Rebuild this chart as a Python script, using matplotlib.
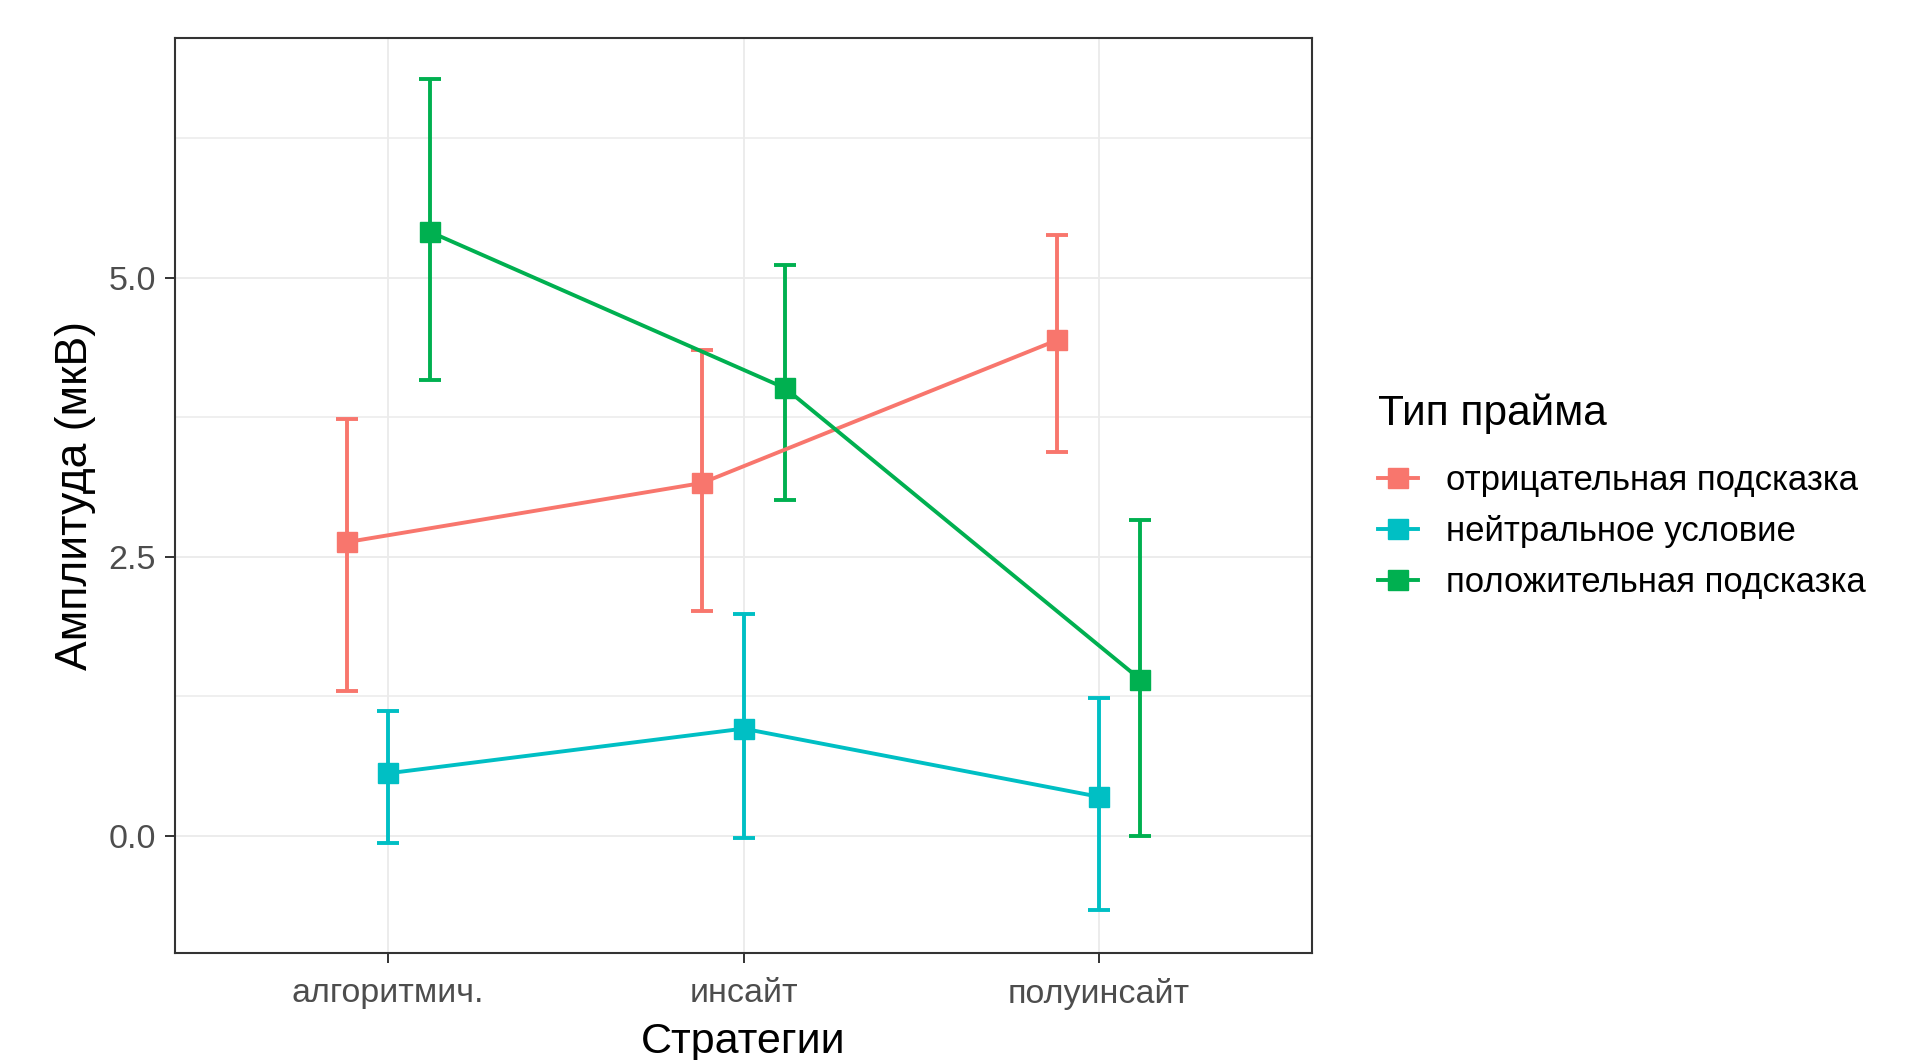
import matplotlib
matplotlib.use('Agg')
import matplotlib.pyplot as plt
from matplotlib.lines import Line2D
import numpy as np

plt.rcParams['font.family'] = ['Liberation Sans', 'DejaVu Sans']

# Data
categories = ['алгоритмич.', 'инсайт', 'полуинсайт']
groups = ['отрицательная подсказка', 'нейтральное условие', 'положительная подсказка']
colors = ['#F8766D', '#00BFC4', '#00B050']

neg_mean = [2.63, 3.16, 4.44]
neg_low = [1.30, 2.01, 3.44]
neg_high = [3.73, 4.35, 5.38]

neu_mean = [0.56, 0.96, 0.35]
neu_low = [-0.06, -0.02, -0.66]
neu_high = [1.12, 1.99, 1.23]

pos_mean = [5.41, 4.01, 1.40]
pos_low = [4.08, 3.01, 0.00]
pos_high = [6.78, 5.11, 2.83]

means = [neg_mean, neu_mean, pos_mean]
lows = [neg_low, neu_low, pos_low]
highs = [neg_high, neu_high, pos_high]

W, H = 1917, 1060
fig = plt.figure(figsize=(W / 100, H / 100), dpi=100)
ax = fig.add_axes([175 / W, (H - 952.5) / H, (1312 - 175) / W, (952.5 - 37.5) / H])

x = np.arange(1, len(categories) + 1)
dodge = [-0.117, 0.0, 0.117]

for i in range(3):
    xs = x + dodge[i]
    m = np.array(means[i])
    lo = m - np.array(lows[i])
    hi = np.array(highs[i]) - m
    ax.errorbar(xs, m, yerr=[lo, hi], fmt='none', ecolor=colors[i],
                elinewidth=2.8, capsize=8, capthick=2.8, zorder=3)
    ax.plot(xs, m, color=colors[i], lw=2.8, marker='s', markersize=14.5,
            zorder=4)

ax.set_xticks(x)
ax.set_xticklabels(categories)
ax.set_yticks([0, 2.5, 5.0])
ax.set_yticklabels(['0.0', '2.5', '5.0'])
ax.set_yticks([1.25, 3.75, 6.25], minor=True)
ax.set_xlim(0.4, 3.6)
ax.set_ylim(-1.045, 7.15)

ax.grid(True, which='major', color='#EBEBEB', lw=1.3, zorder=0)
ax.grid(True, which='minor', axis='y', color='#EBEBEB', lw=1.1, zorder=0)
ax.set_axisbelow(True)
ax.tick_params(which='major', length=7.5, width=1.4, color='#333333',
               labelsize=24.5, labelcolor='#4D4D4D')
ax.tick_params(axis='x', pad=11)
ax.tick_params(axis='y', pad=6)
ax.tick_params(which='minor', length=0)
for s in ax.spines.values():
    s.set_color('#333333')
    s.set_linewidth(1.5)

fig.text(743 / W, 1 - 1042 / H, 'Стратегии', fontsize=31, ha='center', va='center')
fig.text(76 / W, 1 - 495 / H, 'Амплитуда (мкВ)', fontsize=32, ha='center',
         va='center', rotation=90)

handles = [Line2D([0], [0], color=c, lw=2.8, marker='s', markersize=14.5) for c in colors]
leg = fig.legend(handles, groups, title='Тип прайма', loc='upper left',
                 bbox_to_anchor=(1347 / W, 1 - 362 / H), frameon=False,
                 fontsize=25, title_fontsize=30.5, handlelength=1.15,
                 handletextpad=0.8, labelspacing=0.52)
leg._legend_box.align = 'left'
leg._legend_box.sep = 22

fig.savefig('out.png', dpi=100)
